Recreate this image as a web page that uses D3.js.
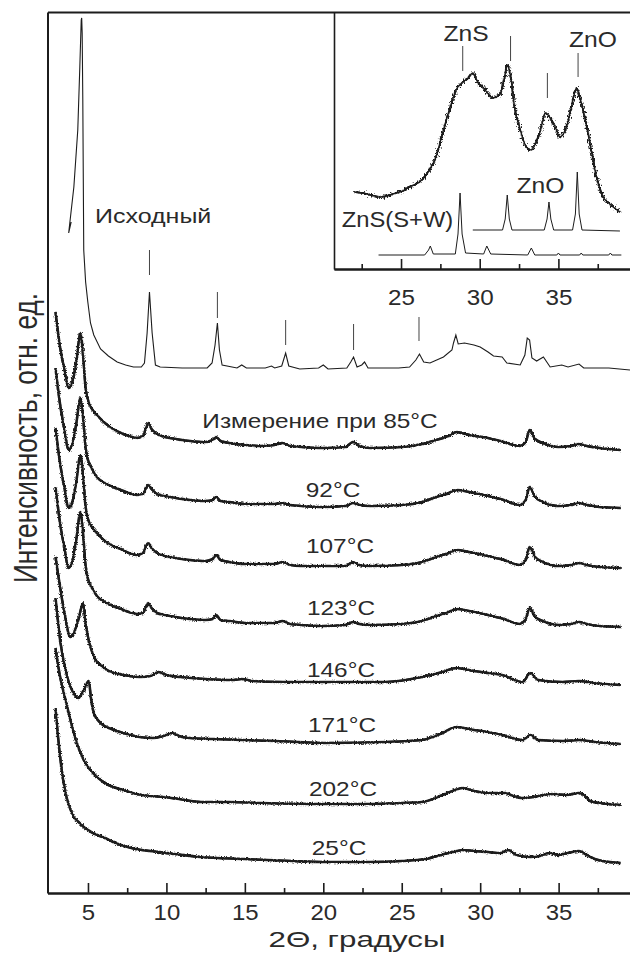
<!DOCTYPE html>
<html>
<head>
<meta charset="utf-8">
<script src="https://cdnjs.cloudflare.com/ajax/libs/d3/7.8.5/d3.min.js"></script>
<style>
  body { margin: 0; background: #fff; }
  svg { display: block; font-family: "Liberation Sans", Arial, sans-serif; }
</style>
</head>
<body>
<svg width="630" height="959"></svg>
<script>
// ---- data: [2θ, intensity above the curve's own background] ----
const initialCurve = [[3.93,148],[3.77,137],[4.1,183],[4.35,240],[4.48,303],[4.57,350],[4.6,352],[4.63,337],[4.67,270],[4.73,120],[4.85,88],[4.99,68],[5.16,47],[5.37,35],[5.8,21],[6.3,14],[6.86,8],[7.4,5],[7.9,3],[8.4,3],[8.6,7],[8.77,37],[8.92,78],[9.09,37],[9.3,5],[9.6,3],[11,2],[12.6,2],[12.91,7],[13.1,25],[13.25,47],[13.38,20],[13.55,5],[14.5,2],[14.8,5],[15.1,2],[16.3,2],[16.7,4],[16.9,2],[17.35,4],[17.6,17],[17.8,4],[18.5,1],[19.7,2],[20.0,5],[20.3,1],[21.5,2],[21.75,8],[21.93,13],[22.15,3],[22.45,5],[22.63,8],[22.85,2],[24.8,2],[25.5,3],[25.9,10],[26.13,16],[26.4,8],[26.8,7],[27.66,13],[28.2,20],[28.3,27],[28.45,35],[28.6,26],[29.0,27],[29.6,25],[30.0,23],[30.5,18],[30.85,14],[31.4,13],[31.7,7],[32.55,5],[32.85,15],[33.0,32],[33.15,30],[33.3,12],[33.6,9],[34.03,13],[34.46,3],[35.2,5],[35.6,3],[36.3,6],[36.6,2],[38.2,2],[39.55,0]];

const t85 = [[2.93,138],[3.2,105],[3.5,80],[3.76,62],[4.0,68],[4.25,88],[4.52,117],[4.7,92],[4.85,62],[5.0,50],[5.3,40],[5.57,35],[6.08,27],[6.6,21],[7.1,17],[7.6,14],[8.1,12],[8.5,14],[8.84,27],[9.05,21],[9.4,16],[9.9,13],[10.6,11],[11.5,9],[12.5,8],[12.95,10],[13.17,13],[13.45,9],[14.0,7],[15.0,5],[16.0,4],[16.9,5],[17.4,7],[17.9,4],[18.6,3],[20.0,2],[21.4,3],[21.9,8],[22.3,4],[23.0,2],[25.0,3],[26.3,6],[27.2,10],[28.0,14],[28.5,18],[29.3,15],[30.5,12],[31.5,8],[32.5,4],[32.9,8],[33.15,20],[33.5,11],[34.0,7],[35.0,3],[35.8,4],[36.3,6],[36.8,4],[37.6,2],[38.96,0]];
const t92 = [[2.93,140],[3.2,106],[3.5,78],[3.76,58],[4.0,64],[4.25,84],[4.52,110],[4.7,88],[4.85,60],[5.0,48],[5.3,38],[5.57,31],[6.08,25],[6.6,21],[7.1,18],[7.6,15],[8.1,13],[8.5,14],[8.84,23],[9.05,19],[9.4,14],[9.9,12],[10.6,10],[11.5,8],[12.5,7],[12.95,8],[13.17,11],[13.45,7],[14.0,6],[15.0,4],[16.0,4],[16.9,4],[17.4,5],[17.9,3],[18.6,2],[20.0,1],[21.4,2],[21.9,5],[22.3,3],[23.0,2],[25.0,3],[26.3,6],[27.2,11],[28.0,15],[28.5,18],[29.3,16],[30.5,12],[31.5,8],[32.5,3],[32.9,8],[33.15,21],[33.5,11],[34.0,6],[35.0,2],[35.8,3],[36.3,5],[36.8,3],[37.6,1],[38.96,0]];
const t107 = [[2.93,140],[3.2,107],[3.5,80],[3.76,60],[4.0,66],[4.25,86],[4.52,113],[4.7,90],[4.85,61],[5.0,49],[5.3,40],[5.57,35],[6.08,27],[6.6,22],[7.1,19],[7.6,15],[8.1,13],[8.5,15],[8.84,25],[9.05,20],[9.4,15],[9.9,12],[10.6,10],[11.5,8],[12.5,7],[12.95,9],[13.17,13],[13.45,8],[14.0,6],[15.0,4],[16.0,4],[16.9,4],[17.4,6],[17.9,3],[18.6,2],[20.0,2],[21.4,2],[21.9,6],[22.3,3],[23.0,2],[25.0,3],[26.3,6],[27.2,11],[28.0,15],[28.5,18],[29.3,16],[30.5,12],[31.5,8],[32.5,3],[32.9,8],[33.15,21],[33.5,11],[34.0,6],[35.0,2],[35.8,3],[36.3,5],[36.8,3],[37.6,1],[38.96,0]];
const t123 = [[2.93,140],[3.2,106],[3.5,79],[3.76,59],[4.0,66],[4.25,87],[4.52,115],[4.7,91],[4.85,61],[5.0,48],[5.3,38],[5.57,31],[6.08,25],[6.6,21],[7.1,18],[7.6,15],[8.1,13],[8.5,14],[8.84,24],[9.05,19],[9.4,14],[9.9,12],[10.6,10],[11.5,8],[12.5,7],[12.95,8],[13.17,12],[13.45,7],[14.0,6],[15.0,4],[16.0,4],[16.9,4],[17.4,6],[17.9,3],[18.6,2],[20.0,1],[21.4,2],[21.9,5],[22.3,3],[23.0,2],[25.0,3],[26.3,6],[27.2,11],[28.0,15],[28.5,18],[29.3,16],[30.5,12],[31.5,8],[32.5,3],[32.9,8],[33.15,19],[33.5,10],[34.0,6],[35.0,2],[35.8,3],[36.3,5],[36.8,3],[37.6,1],[38.96,0]];
const t146 = [[2.93,128],[3.2,100],[3.5,72],[3.88,48],[4.1,52],[4.4,66],[4.69,82],[4.85,62],[5.0,48],[5.16,38],[5.48,25],[5.9,19],[6.22,15],[7.26,10],[8.3,8],[8.98,9],[9.5,13],[10.0,10],[10.9,8],[12.5,6],[14.27,5],[14.8,6],[15.5,4],[17.5,3],[20.0,3],[21.9,3],[24.0,3],[26.3,8],[27.6,13],[28.5,17],[29.6,14],[30.5,12],[31.4,10],[32.7,3],[33.2,12],[33.7,5],[35.25,3],[36.3,4],[37.2,2],[38.96,0]];
const t171 = [[2.93,146],[3.25,101],[3.68,67],[4.08,51],[4.4,46],[4.73,54],[5.05,63],[5.2,45],[5.37,31],[5.8,21],[6.5,15],[7.26,11],[8.3,7],[9.15,6],[9.8,8],[10.4,11],[10.8,8],[11.5,6],[13,5],[14.8,4],[17,3],[20,1],[24,2],[26.3,4],[27.6,11],[28.47,17],[29.6,14],[30.5,12],[31.4,9],[32.7,4],[33.2,9],[33.7,4],[35.3,3],[36.3,4],[37.3,2],[38.96,0]];
const t202 = [[2.93,157],[3.2,130],[3.46,112],[3.8,90],[4.1,72],[4.4,57],[4.73,45],[5.1,36],[5.58,28],[6.3,20],[7.26,15],[8.1,11],[8.98,9],[9.8,8],[10.8,6],[12.2,3],[14,3],[16,2],[20,1],[23,1],[25,2],[26.3,3],[27.6,10],[28.4,15],[28.9,17],[29.6,14],[30.5,12],[31.2,12],[31.6,12],[32.1,9],[32.7,7],[33.4,8],[34.0,10],[34.7,11],[35.5,10],[36.3,12],[36.7,9],[37.0,4],[37.6,2],[38.96,0]];
const t25 = [[2.93,155],[3.1,125],[3.25,103],[3.45,80],[3.68,63],[3.9,53],[4.1,46],[4.4,41],[4.73,36],[5.2,31],[5.6,28],[6.08,25],[6.6,21],[7.3,17],[8.4,13],[8.98,12],[10.5,9],[12.2,6],[15,4],[18,2],[20,1],[23,1],[25,2],[26.5,4],[27.5,8],[28.5,12],[28.9,13],[29.6,12],[30.5,11],[31.3,10],[31.8,13],[32.3,8],[33.2,6],[33.8,7],[34.4,10],[35.0,8],[35.6,10],[36.3,12],[36.8,8],[37.3,4],[37.8,2],[38.96,0]];

const heatedCurves = [t85, t92, t107, t123, t146, t171, t202, t25];
const heatedLabels = ["Измерение при 85°C", "92°C", "107°C", "123°C", "146°C", "171°C", "202°C", "25°C"];
// background level of each stacked curve
const heatedOffsets = [443, 385, 325, 266, 208, 149, 88, 30];
const initialOffset = 523;
const initialLabel = "Исходный";
// reflection marks above the initial curve: [2θ, top, bottom]
const initialMarks = [[8.92,120,95],[13.25,78,52],[17.6,50,25],[21.93,46,20],[26.1,53,29]];

const xMajor = [5, 10, 15, 20, 25, 30, 35];
const xMinor = [7.5, 12.5, 17.5, 22.5, 27.5, 32.5, 37.5];

// ---- inset ----
const insetSample = [[22.02,77],[22.55,76],[23.1,74],[23.6,72],[24.1,73],[24.67,76],[25.1,78],[25.52,82],[26.16,87],[26.5,92],[26.8,99],[27.22,112],[27.64,136],[28.07,159],[28.5,179],[28.92,187],[29.2,190],[29.56,196],[29.9,186],[30.19,182],[30.5,176],[30.83,171],[31.26,174],[31.58,192],[31.75,204],[32.0,189],[32.21,162],[32.53,142],[32.96,122],[33.28,119],[33.5,124],[33.81,136],[34.19,156],[34.55,149],[34.8,142],[35.08,132],[35.51,142],[35.83,162],[36.15,181],[36.35,172],[36.57,159],[37.0,126],[37.42,92],[37.84,72],[38.2,66],[38.48,62],[38.91,57]];
const insetZnO = [[29.56,39],[31.45,39],[31.62,50],[31.75,74],[31.88,50],[32.05,39],[34.1,39],[34.28,50],[34.4,67],[34.52,50],[34.7,39],[35.9,39],[36.08,55],[36.2,97],[36.32,55],[36.5,39],[38.91,38]];
const insetZnS = [[23.57,14],[26.5,14],[26.75,19],[26.86,23],[27.05,15],[28.45,15],[28.62,35],[28.75,76],[28.88,35],[29.1,16],[30.25,15],[30.45,23],[30.7,15],[33.05,14],[33.28,21],[33.5,14],[34.9,14],[35.0,16],[35.1,14],[36.35,14],[36.45,16],[36.55,14],[38.2,14],[38.3,16],[38.4,14],[39.0,14]];
const insetMarks = [[28.92,223,198],[31.96,233,208],[34.3,196,171],[36.25,216,192]];
const insetMajor = [25, 30, 35];
const insetMinor = [22.5, 27.5, 32.5, 37.5];

// ---- drawing ----
const svg = d3.select("svg");
const ink = "#1c1c1c", textCol = "#2a2a2a";

// rough stroke look of the noisy measured patterns
const defs = svg.append("defs");
function roughFilter(id, freq, amount) {
  const f = defs.append("filter").attr("id", id)
    .attr("x", "-5%").attr("y", "-10%").attr("width", "110%").attr("height", "120%");
  f.append("feTurbulence").attr("type", "fractalNoise")
    .attr("baseFrequency", freq).attr("numOctaves", 2).attr("seed", 3).attr("result", "n");
  f.append("feDisplacementMap").attr("in", "SourceGraphic").attr("in2", "n")
    .attr("scale", amount).attr("xChannelSelector", "R").attr("yChannelSelector", "G");
}
roughFilter("rough", "0.9 0.9", 4);
roughFilter("roughInset", "0.7 0.5", 7);

const x = d3.scaleLinear().domain([2.42, 39.55]).range([47.5, 630]);
const y = d3.scaleLinear().domain([0, 881]).range([893, 12]);

const xi = d3.scaleLinear().domain([20.74, 39.55]).range([334, 630]);
const yi = d3.scaleLinear().domain([0, 257]).range([269, 12]);

function styleAxis(g, w) {
  g.select(".domain").attr("stroke", ink).attr("stroke-width", w);
  g.selectAll(".tick line").attr("stroke", ink).attr("stroke-width", 1.6);
  g.attr("font-family", null);
}

function label(text, px, py, size, sx, anchor) {
  svg.append("text")
    .attr("transform", `translate(${px},${py}) scale(${sx},1)`)
    .attr("text-anchor", anchor || "middle")
    .attr("font-size", size)
    .attr("fill", textCol)
    .text(text);
}

// main curves
const mainLine = off => d3.line().x(d => x(d[0])).y(d => y(off + d[1]));

svg.append("path")
  .datum(initialCurve)
  .attr("d", mainLine(initialOffset))
  .attr("fill", "none").attr("stroke", ink).attr("stroke-width", 1.1);

heatedCurves.forEach((c, i) => {
  const d = mainLine(heatedOffsets[i]).curve(d3.curveMonotoneX)(c);
  // solid core plus a roughened copy for the noisy look
  svg.append("path").attr("d", d)
    .attr("fill", "none").attr("stroke", ink)
    .attr("stroke-width", 2).attr("stroke-linejoin", "round");
  svg.append("path").attr("d", d)
    .attr("fill", "none").attr("stroke", ink)
    .attr("stroke-width", 2.6).attr("stroke-linejoin", "round")
    .attr("filter", "url(#rough)");
});

svg.append("g").selectAll("line")
  .data(initialMarks)
  .join("line")
  .attr("x1", d => x(d[0])).attr("x2", d => x(d[0]))
  .attr("y1", d => y(initialOffset + d[1])).attr("y2", d => y(initialOffset + d[2]))
  .attr("stroke", "#444").attr("stroke-width", 1);

// main axes
const gx = svg.append("g").attr("transform", "translate(0,893)")
  .call(d3.axisBottom(x).tickValues(xMajor).tickSize(-10).tickSizeOuter(0).tickPadding(11))
  .attr("font-size", 22);
styleAxis(gx, 2);
gx.selectAll(".tick text").attr("fill", textCol).attr("transform", "scale(1.09,1)");

const gxm = svg.append("g").attr("transform", "translate(0,893)")
  .call(d3.axisBottom(x).tickValues(xMinor).tickSize(-5).tickSizeOuter(0).tickFormat(""));
styleAxis(gxm, 2);

const gtop = svg.append("g").attr("transform", "translate(0,12)")
  .call(d3.axisBottom(x).tickValues([]).tickSizeOuter(0));
styleAxis(gtop, 2);

const gy = svg.append("g").attr("transform", "translate(47.5,0)")
  .call(d3.axisLeft(y).tickValues([]).tickSizeOuter(0));
styleAxis(gy, 2);

// curve labels
label(initialLabel, 95, 223, 20, 1.25, "start");
const labelX = [320, 333, 340, 341, 341, 342, 343, 339];
const labelY = [428, 497, 553, 615, 677, 732, 796, 855];
heatedLabels.forEach((t, i) => label(t, labelX[i], labelY[i], 20, 1.22));

// axis titles
svg.append("text")
  .attr("x", 357).attr("y", 947)
  .attr("text-anchor", "middle").attr("font-size", 22).attr("fill", textCol)
  .attr("textLength", 177).attr("lengthAdjust", "spacingAndGlyphs")
  .text("2Θ, градусы");

svg.append("text")
  .attr("transform", "translate(36.5,438) rotate(-90) scale(1,1.25)")
  .attr("text-anchor", "middle").attr("font-size", 26).attr("fill", textCol)
  .attr("textLength", 290).attr("lengthAdjust", "spacingAndGlyphs")
  .text("Интенсивность, отн. ед.");

// ---- inset drawing ----
const insetLine = d3.line().x(d => xi(d[0])).y(d => yi(d[1]));

svg.append("path").datum(insetZnS).attr("d", insetLine)
  .attr("fill", "none").attr("stroke", ink).attr("stroke-width", 1);
svg.append("path").datum(insetZnO).attr("d", insetLine)
  .attr("fill", "none").attr("stroke", ink).attr("stroke-width", 1);
const sampleD = insetLine.curve(d3.curveMonotoneX)(insetSample);
svg.append("path").attr("d", sampleD)
  .attr("fill", "none").attr("stroke", ink).attr("stroke-width", 1.5)
  .attr("stroke-linejoin", "round");
svg.append("path").attr("d", sampleD)
  .attr("fill", "none").attr("stroke", ink).attr("stroke-width", 2.2)
  .attr("stroke-linejoin", "round").attr("filter", "url(#roughInset)");

svg.append("g").selectAll("line")
  .data(insetMarks)
  .join("line")
  .attr("x1", d => xi(d[0])).attr("x2", d => xi(d[0]))
  .attr("y1", d => yi(d[1])).attr("y2", d => yi(d[2]))
  .attr("stroke", "#444").attr("stroke-width", 1);

const gix = svg.append("g").attr("transform", "translate(0,269)")
  .call(d3.axisBottom(xi).tickValues(insetMajor).tickSize(-10).tickSizeOuter(0).tickPadding(20))
  .attr("font-size", 22);
styleAxis(gix, 2);
gix.selectAll(".tick text").attr("fill", textCol).attr("transform", "scale(1.1,1)");

const gixm = svg.append("g").attr("transform", "translate(0,269)")
  .call(d3.axisBottom(xi).tickValues(insetMinor).tickSize(-5).tickSizeOuter(0).tickFormat(""));
styleAxis(gixm, 2);

const giy = svg.append("g").attr("transform", "translate(334,0)")
  .call(d3.axisLeft(yi).tickValues([]).tickSizeOuter(0));
styleAxis(giy, 1.6);

label("ZnS", 466, 40.7, 22, 1.12);
label("ZnO", 593, 46.7, 22, 1.12);
label("ZnO", 540.5, 193, 22, 1.12);
label("ZnS(S+W)", 397.5, 227, 22, 1.08);
</script>
</body>
</html>
